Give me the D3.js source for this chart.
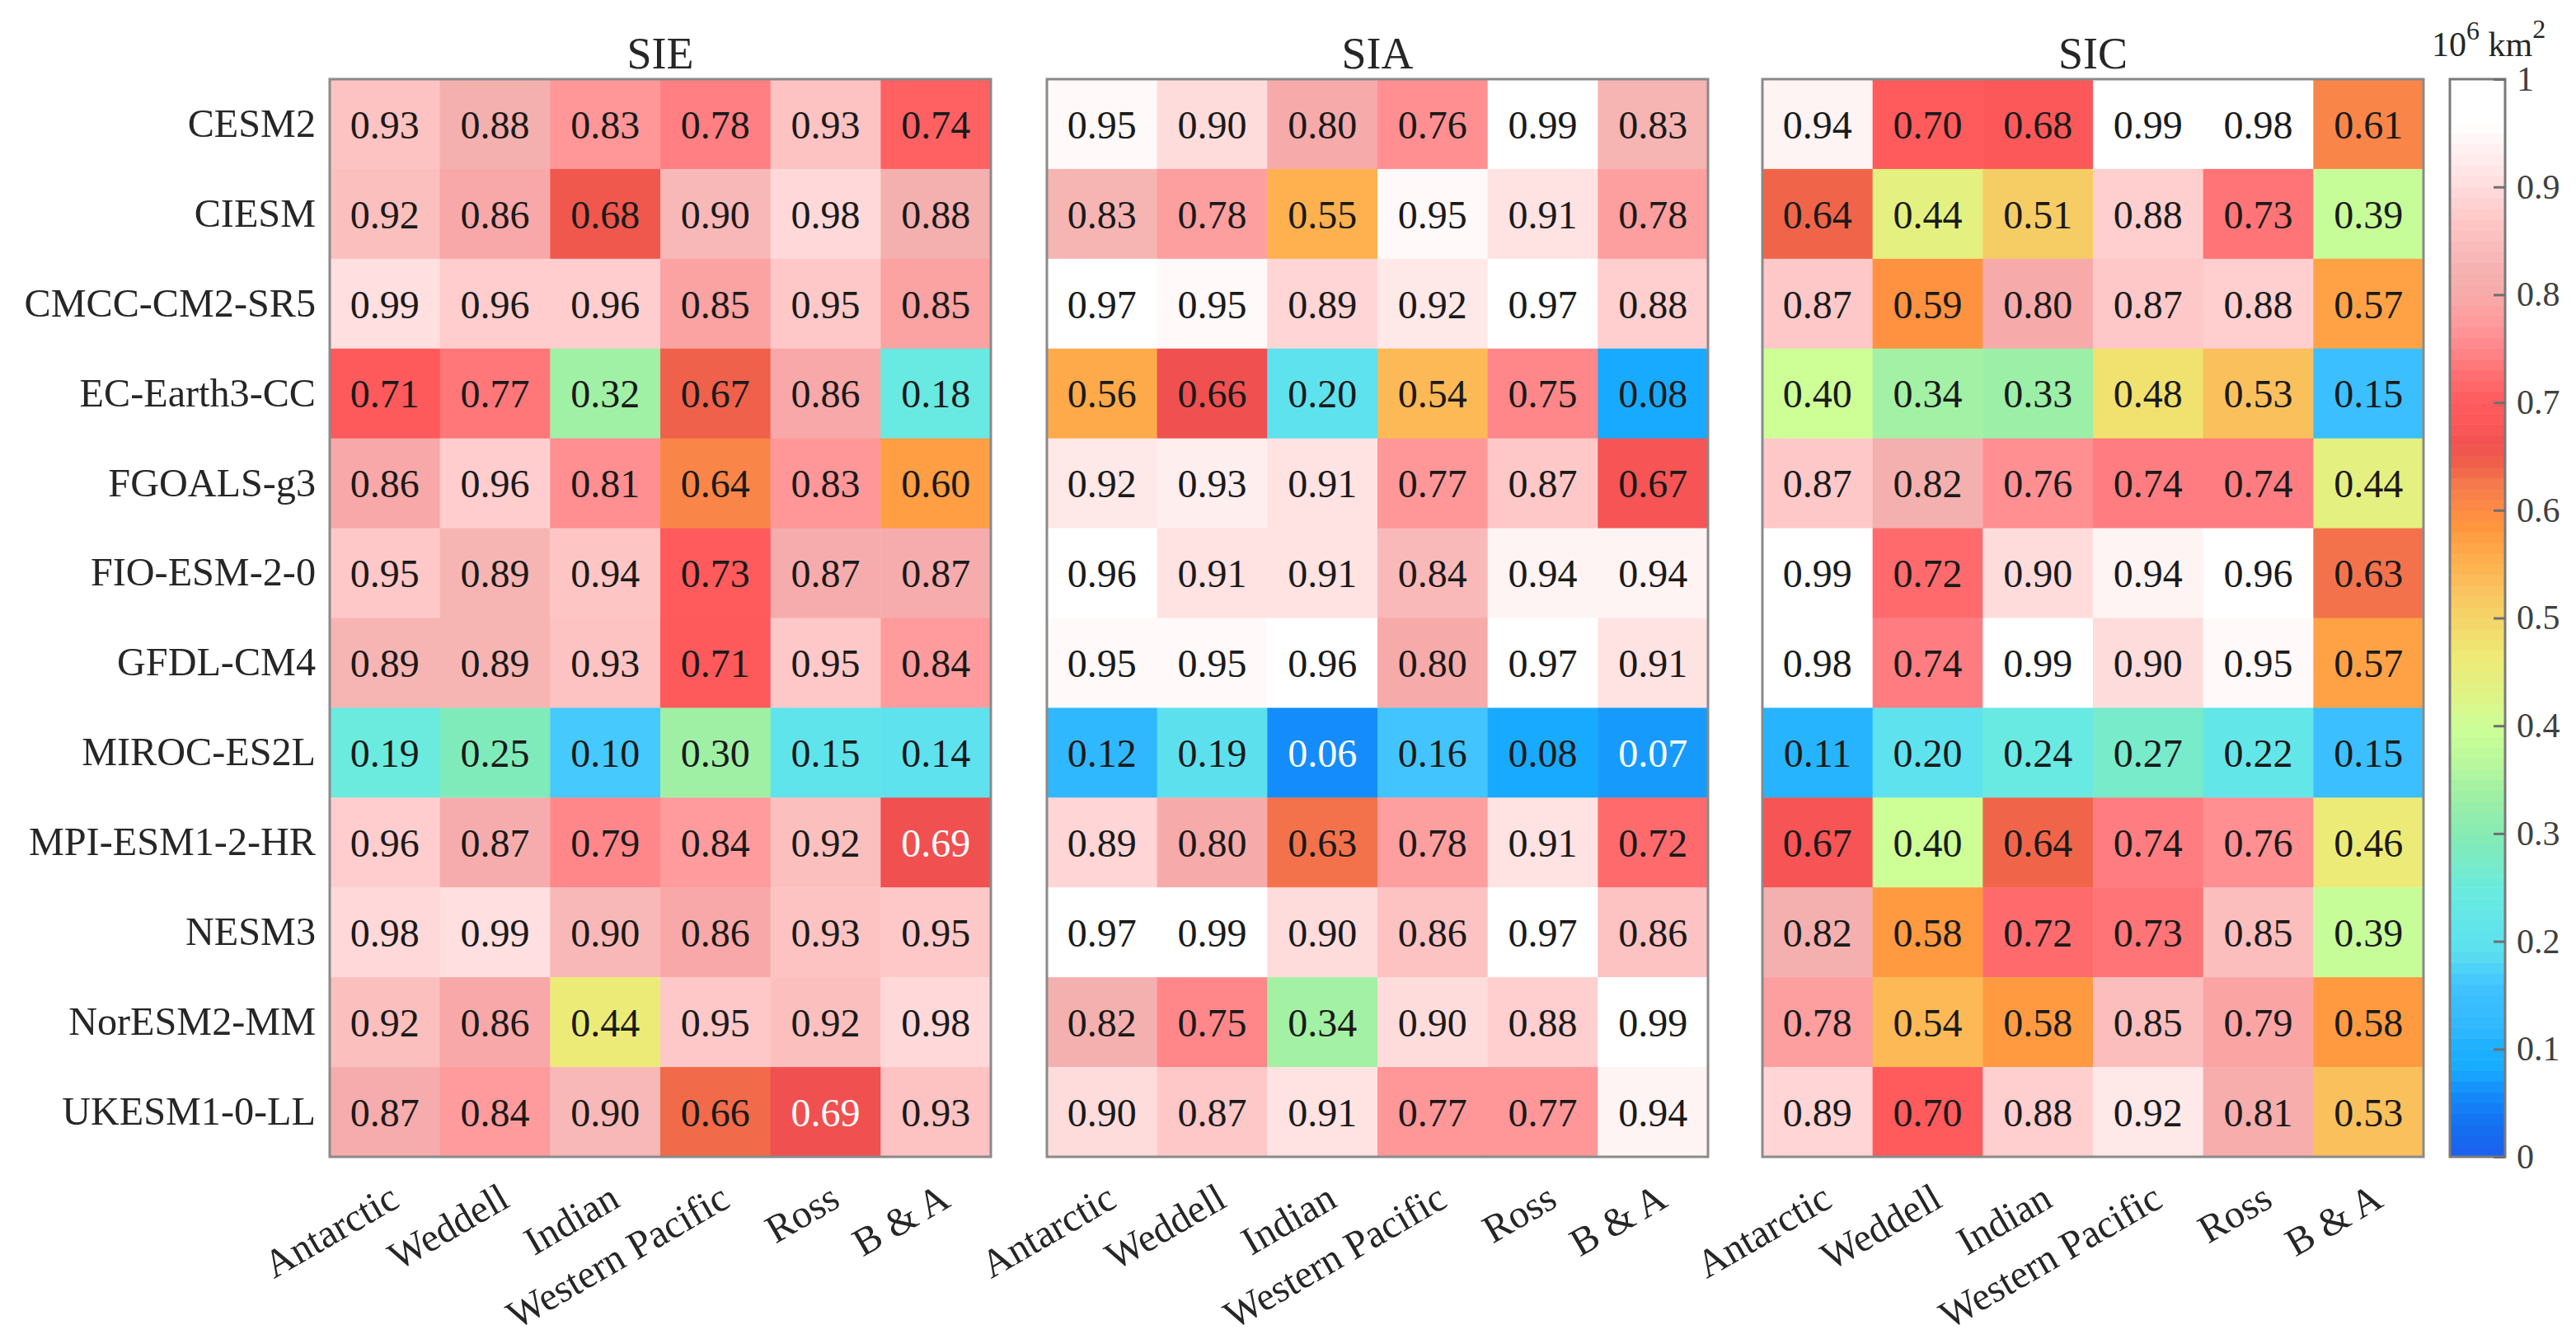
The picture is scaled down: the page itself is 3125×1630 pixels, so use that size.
<!DOCTYPE html>
<html>
<head>
<meta charset="utf-8">
<script src="https://cdn.jsdelivr.net/npm/d3@7"></script>
<style>
  html, body { margin: 0; background: #fff; }
  svg { display: block; }
  text { font-family: "Liberation Serif", serif; fill: #262626; }
</style>
</head>
<body>
<svg id="chart" width="3125" height="1630"></svg>
<script>
// models down the side, regions along the bottom
var models = ["CESM2", "CIESM", "CMCC-CM2-SR5", "EC-Earth3-CC", "FGOALS-g3", "FIO-ESM-2-0",
              "GFDL-CM4", "MIROC-ES2L", "MPI-ESM1-2-HR", "NESM3", "NorESM2-MM", "UKESM1-0-LL"];
var regions = ["Antarctic", "Weddell", "Indian", "Western Pacific", "Ross", "B & A"];
var panelNames = ["SIE", "SIA", "SIC"];

var sieValues = [
  [0.93, 0.88, 0.83, 0.78, 0.93, 0.74],
  [0.92, 0.86, 0.68, 0.90, 0.98, 0.88],
  [0.99, 0.96, 0.96, 0.85, 0.95, 0.85],
  [0.71, 0.77, 0.32, 0.67, 0.86, 0.18],
  [0.86, 0.96, 0.81, 0.64, 0.83, 0.60],
  [0.95, 0.89, 0.94, 0.73, 0.87, 0.87],
  [0.89, 0.89, 0.93, 0.71, 0.95, 0.84],
  [0.19, 0.25, 0.10, 0.30, 0.15, 0.14],
  [0.96, 0.87, 0.79, 0.84, 0.92, 0.69],
  [0.98, 0.99, 0.90, 0.86, 0.93, 0.95],
  [0.92, 0.86, 0.44, 0.95, 0.92, 0.98],
  [0.87, 0.84, 0.90, 0.66, 0.69, 0.93]
];
var siaValues = [
  [0.95, 0.90, 0.80, 0.76, 0.99, 0.83],
  [0.83, 0.78, 0.55, 0.95, 0.91, 0.78],
  [0.97, 0.95, 0.89, 0.92, 0.97, 0.88],
  [0.56, 0.66, 0.20, 0.54, 0.75, 0.08],
  [0.92, 0.93, 0.91, 0.77, 0.87, 0.67],
  [0.96, 0.91, 0.91, 0.84, 0.94, 0.94],
  [0.95, 0.95, 0.96, 0.80, 0.97, 0.91],
  [0.12, 0.19, 0.06, 0.16, 0.08, 0.07],
  [0.89, 0.80, 0.63, 0.78, 0.91, 0.72],
  [0.97, 0.99, 0.90, 0.86, 0.97, 0.86],
  [0.82, 0.75, 0.34, 0.90, 0.88, 0.99],
  [0.90, 0.87, 0.91, 0.77, 0.77, 0.94]
];
var sicValues = [
  [0.94, 0.70, 0.68, 0.99, 0.98, 0.61],
  [0.64, 0.44, 0.51, 0.88, 0.73, 0.39],
  [0.87, 0.59, 0.80, 0.87, 0.88, 0.57],
  [0.40, 0.34, 0.33, 0.48, 0.53, 0.15],
  [0.87, 0.82, 0.76, 0.74, 0.74, 0.44],
  [0.99, 0.72, 0.90, 0.94, 0.96, 0.63],
  [0.98, 0.74, 0.99, 0.90, 0.95, 0.57],
  [0.11, 0.20, 0.24, 0.27, 0.22, 0.15],
  [0.67, 0.40, 0.64, 0.74, 0.76, 0.46],
  [0.82, 0.58, 0.72, 0.73, 0.85, 0.39],
  [0.78, 0.54, 0.58, 0.85, 0.79, 0.58],
  [0.89, 0.70, 0.88, 0.92, 0.81, 0.53]
];
var panelValues = [sieValues, siaValues, sicValues];

// cells printed in white: panel, row, column
var whiteCells = [[0, 8, 5], [0, 11, 4], [1, 7, 2], [1, 7, 5]];

var colorbarTicks = [0, 0.1, 0.2, 0.3, 0.4, 0.5, 0.6, 0.7, 0.8, 0.9, 1];

// colormap
var cmapValues = [0, 0.03, 0.06, 0.08, 0.1, 0.12, 0.15, 0.16, 0.19, 0.2, 0.25, 0.272, 0.3, 0.336, 0.369, 0.4, 0.43, 0.465, 0.5,
                  0.527, 0.552, 0.586, 0.6, 0.624, 0.642, 0.66, 0.68, 0.7, 0.724, 0.75, 0.775, 0.8, 0.82,
                  0.86, 0.88, 0.9, 0.93, 0.96, 1];
var cmapColors = ["#1c60ee", "#1370f0", "#148cfb", "#18aaff", "#1cb0ff", "#30b8ff", "#3bbfff", "#42c4ff", "#5ce0ee", "#5ee2ee",
                  "#6aebde", "#78ebc8", "#85ebb2", "#a0f0a5", "#bbf89b", "#cdff96", "#e0f384", "#eeea75", "#f5d468",
                  "#f9c25e", "#ffb04e", "#ff953e", "#fd8c45", "#f57a4c", "#ef6249", "#f05050", "#fc585a", "#ff5a5c",
                  "#ff6e70", "#ff878a", "#ff9b9c", "#f7aaaa", "#f4b0ae",
                  "#fdc2c2", "#ffcece", "#ffdcdc", "#ffeeee", "#ffffff", "#ffffff"];

// the SIE cells are not shaded by their printed number, so map them along the colorbar
var sieShadeIn = [0, 0.10, 0.14, 0.19, 0.25, 0.30, 0.32, 0.44, 0.60, 0.64, 0.66, 0.69, 0.71, 0.73, 0.79, 0.84, 0.89, 0.93, 0.95, 0.98, 0.99];
var sieShadeOut = [0, 0.165, 0.20, 0.25, 0.29, 0.335, 0.336, 0.46, 0.575, 0.61, 0.635, 0.66, 0.69, 0.70, 0.75, 0.775, 0.83, 0.86, 0.87, 0.895, 0.905];

var cmap = d3.scaleLinear().domain(cmapValues).range(cmapColors).clamp(true);
var sieShade = d3.scaleLinear().domain(sieShadeIn).range(sieShadeOut);

var svg = d3.select("#chart");
var panelX = [400, 1270, 2138];
var panelW = 802, plotTop = 96, plotBottom = 1403;

var y = d3.scaleBand().domain(models).range([plotTop, plotBottom]);
var fmt = d3.format(".2f");

panelValues.forEach(function(values, p) {
  var x = d3.scaleBand().domain(regions).range([panelX[p], panelX[p] + panelW]);
  var g = svg.append("g");

  // flatten one panel to a row per cell
  var cells = [];
  values.forEach(function(row, r) {
    row.forEach(function(v, c) {
      cells.push({ r: r, c: c, v: v });
    });
  });

  g.selectAll("rect.cell")
    .data(cells)
    .enter()
    .append("rect")
    .attr("class", "cell")
    .attr("x", function(d) { return x(regions[d.c]); })
    .attr("y", function(d) { return y(models[d.r]); })
    .attr("width", x.bandwidth() + 0.5)
    .attr("height", y.bandwidth() + 0.5)
    .attr("fill", function(d) { return cmap(p == 0 ? sieShade(d.v) : d.v); });

  g.selectAll("text.val")
    .data(cells)
    .enter()
    .append("text")
    .attr("class", "val")
    .attr("x", function(d) { return x(regions[d.c]) + x.bandwidth() / 2; })
    .attr("y", function(d) { return y(models[d.r]) + y.bandwidth() / 2; })
    .attr("dy", "0.36em")
    .attr("text-anchor", "middle")
    .attr("font-size", 48)
    .style("fill", function(d) {
      var white = whiteCells.some(function(w) { return w[0] == p && w[1] == d.r && w[2] == d.c; });
      return white ? "#fff" : "#1a1a1a";
    })
    .text(function(d) { return fmt(d.v); });

  // frame
  g.append("rect")
    .attr("x", panelX[p])
    .attr("y", plotTop)
    .attr("width", panelW)
    .attr("height", plotBottom - plotTop)
    .attr("fill", "none")
    .attr("stroke", "#8a8a8a")
    .attr("stroke-width", 3);

  g.append("text")
    .attr("x", panelX[p] + panelW / 2)
    .attr("y", 83)
    .attr("text-anchor", "middle")
    .attr("font-size", 54)
    .text(panelNames[p]);

  // region labels, slanted
  var xAxis = g.append("g")
    .attr("transform", "translate(0," + plotBottom + ")")
    .call(d3.axisBottom(x).tickSize(0));
  xAxis.select(".domain").remove();
  xAxis.selectAll("text")
    .attr("font-size", 48)
    .attr("text-anchor", "end")
    .attr("x", 0)
    .attr("y", 0)
    .attr("dy", 0)
    .attr("transform", "translate(20,59) rotate(-30)");

  // model names only on the first panel
  if (p == 0) {
    var yAxis = g.append("g")
      .attr("transform", "translate(" + panelX[0] + ",0)")
      .call(d3.axisLeft(y).tickSize(0).tickPadding(17));
    yAxis.select(".domain").remove();
    yAxis.selectAll("text").attr("font-size", 48.2);
  }
  g.selectAll("g.tick text").style("font-family", '"Liberation Serif", serif');
});

// colorbar
var barX = 2972, barW = 67;
var barScale = d3.scaleLinear().domain([0, 1]).range([plotBottom, plotTop]);
var bands = d3.range(0, 1, 0.01);

svg.selectAll("rect.band")
  .data(bands)
  .enter()
  .append("rect")
  .attr("class", "band")
  .attr("x", barX)
  .attr("y", function(d) { return barScale(d + 0.01); })
  .attr("width", barW)
  .attr("height", barScale(0) - barScale(0.01) + 0.5)
  .attr("fill", function(d) { return cmap(d + 0.005); });

svg.append("rect")
  .attr("x", barX)
  .attr("y", plotTop)
  .attr("width", barW)
  .attr("height", plotBottom - plotTop)
  .attr("fill", "none")
  .attr("stroke", "#7a7a7a")
  .attr("stroke-width", 3);

var barAxis = svg.append("g")
  .attr("transform", "translate(" + (barX + barW) + ",0)")
  .call(d3.axisRight(barScale).tickValues(colorbarTicks).tickFormat(d3.format("")).tickSize(-14).tickPadding(14));
barAxis.select(".domain").remove();
barAxis.selectAll("line").attr("stroke", "#6f6f6f").attr("stroke-width", 3);
barAxis.selectAll("text")
  .attr("font-size", 42)
  .style("font-family", '"Liberation Serif", serif')
  .style("fill", "#404040");

// unit above the colorbar
var unit = svg.append("text")
  .attr("x", 2950)
  .attr("y", 68)
  .attr("font-size", 42);
unit.append("tspan").text("10");
unit.append("tspan").attr("dy", -20).attr("font-size", 32).text("6");
unit.append("tspan").attr("dy", 20).text(" km");
unit.append("tspan").attr("dy", -22).attr("font-size", 32).text("2");
</script>
</body>
</html>
